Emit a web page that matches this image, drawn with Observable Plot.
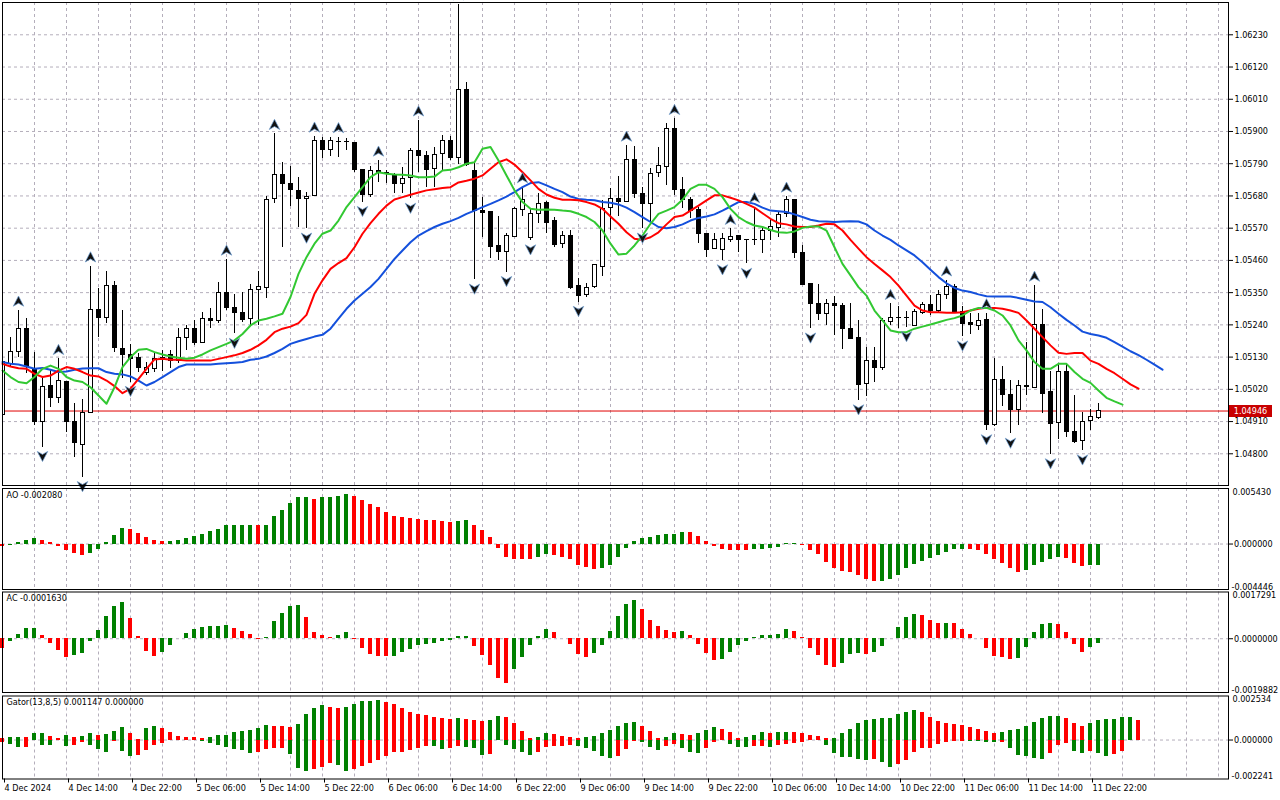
<!DOCTYPE html>
<html>
<head>
<meta charset="utf-8">
<script src="https://cdn.jsdelivr.net/npm/d3@7"></script>
<script src="https://cdn.jsdelivr.net/npm/@observablehq/plot@0.6"></script>
<style>
  body { margin: 0; background: #ffffff; }
  #chart { position: relative; width: 1280px; height: 800px; overflow: hidden; background: #ffffff; }
  #chart svg { position: absolute; left: 0; }
  #tag { position: absolute; left: 1229px; width: 43px; height: 12px; background: #c80000; color: #ffffff;
         font: 9px "DejaVu Sans Condensed", "Liberation Sans", sans-serif; line-height: 12px; text-align: center; }
</style>
</head>
<body>
<div id="chart"></div>
<script>
// ---------- data ----------
const tickLabels = ["4 Dec 2024","4 Dec 14:00","4 Dec 22:00","5 Dec 06:00","5 Dec 14:00","5 Dec 22:00",
  "6 Dec 06:00","6 Dec 14:00","6 Dec 22:00","9 Dec 06:00","9 Dec 14:00","9 Dec 22:00",
  "10 Dec 06:00","10 Dec 14:00","10 Dec 22:00","11 Dec 06:00","11 Dec 14:00","11 Dec 22:00"];
const priceTicks = [1.06230,1.06120,1.06010,1.05900,1.05790,1.05680,1.05570,1.05460,1.05350,1.05240,1.05130,1.05020,1.04910,1.04800];
const aoRange = [-0.004446, 0.005430];
const acRange = [-0.0019882, 0.0017291];
const gatorRange = [-0.002241, 0.002534];

const open = [
1.04931,1.05107,1.05147,1.05227,1.05088,1.04908,1.05030,1.04991,1.05045,1.04910,
1.04831,1.04940,1.05291,1.05263,1.05371,1.05158,1.05138,1.05126,1.05076,1.05090,
1.05122,1.05138,1.05118,1.05196,1.05227,1.05179,1.05261,1.05253,1.05349,1.05298,
1.05281,1.05261,1.05360,1.05366,1.05670,1.05753,1.05721,1.05696,1.05670,1.05679,
1.05869,1.05837,1.05863,1.05865,1.05861,1.05769,1.05684,1.05765,1.05759,1.05748,
1.05721,1.05742,1.05833,1.05818,1.05773,1.05824,1.05867,1.05810,1.06040,1.05764,
1.05630,1.05624,1.05508,1.05488,1.05539,1.05633,1.05536,1.05619,1.05655,1.05593,
1.05517,1.05545,1.05371,1.05343,1.05369,1.05437,1.05640,1.05670,1.05659,1.05801,
1.05685,1.05653,1.05758,1.05778,1.05909,1.05699,1.05665,1.05633,1.05551,1.05500,
1.05496,1.05531,1.05542,1.05531,1.05529,1.05530,1.05560,1.05571,1.05617,1.05665,
1.05486,1.05378,1.05310,1.05278,1.05312,1.05306,1.05227,1.05196,1.05039,1.05115,
1.05092,1.05249,1.05264,1.05262,1.05236,1.05280,1.05308,1.05287,1.05343,1.05369,
1.05283,1.05246,1.05236,1.05257,1.04899,1.05052,1.05001,1.04948,1.05033,1.05025,
1.05241,1.05010,1.04905,1.05079,1.04876,1.04843,1.04911,1.04923];
const high = [
1.05118,1.05198,1.05289,1.05261,1.05147,1.05056,1.05084,1.05124,1.05045,1.04971,
1.04985,1.05440,1.05363,1.05423,1.05388,1.05289,1.05173,1.05141,1.05113,1.05141,
1.05153,1.05153,1.05227,1.05238,1.05255,1.05283,1.05295,1.05384,1.05463,1.05344,
1.05349,1.05377,1.05423,1.05678,1.05892,1.05793,1.05781,1.05742,1.05693,1.05883,
1.05878,1.05881,1.05881,1.05875,1.05861,1.05769,1.05781,1.05801,1.05767,1.05756,
1.05778,1.05841,1.05938,1.05832,1.05847,1.05886,1.05883,1.06334,1.06068,1.05790,
1.05676,1.05624,1.05610,1.05551,1.05642,1.05710,1.05633,1.05690,1.05661,1.05608,
1.05559,1.05562,1.05397,1.05380,1.05446,1.05665,1.05704,1.05746,1.05852,1.05849,
1.05708,1.05773,1.05847,1.05926,1.05943,1.05744,1.05676,1.05642,1.05551,1.05551,
1.05551,1.05568,1.05542,1.05531,1.05642,1.05574,1.05602,1.05625,1.05678,1.05667,
1.05511,1.05378,1.05378,1.05326,1.05337,1.05314,1.05312,1.05255,1.05164,1.05164,
1.05261,1.05312,1.05303,1.05286,1.05291,1.05315,1.05340,1.05357,1.05392,1.05377,
1.05303,1.05280,1.05280,1.05280,1.05124,1.05098,1.05050,1.05050,1.05181,1.05374,
1.05291,1.05082,1.05107,1.05109,1.04999,1.04942,1.04950,1.04973];
const low = [
1.04925,1.05096,1.05130,1.05073,1.04897,1.04823,1.04957,1.04971,1.04874,1.04789,
1.04720,1.04940,1.05198,1.05246,1.05147,1.05056,1.05045,1.05079,1.05067,1.05079,
1.05082,1.05090,1.05107,1.05153,1.05170,1.05175,1.05227,1.05244,1.05289,1.05209,
1.05249,1.05238,1.05238,1.05329,1.05653,1.05505,1.05644,1.05571,1.05568,1.05679,
1.05807,1.05815,1.05810,1.05835,1.05761,1.05659,1.05676,1.05727,1.05721,1.05687,
1.05687,1.05670,1.05761,1.05708,1.05710,1.05767,1.05801,1.05787,1.05780,1.05394,
1.05537,1.05468,1.05460,1.05420,1.05537,1.05610,1.05528,1.05587,1.05551,1.05505,
1.05500,1.05360,1.05318,1.05335,1.05363,1.05405,1.05562,1.05610,1.05659,1.05670,
1.05568,1.05591,1.05744,1.05716,1.05682,1.05636,1.05602,1.05517,1.05469,1.05500,
1.05460,1.05522,1.05488,1.05448,1.05511,1.05485,1.05528,1.05537,1.05608,1.05465,
1.05377,1.05227,1.05255,1.05238,1.05204,1.05155,1.05192,1.04982,1.04996,1.05045,
1.05084,1.05238,1.05227,1.05232,1.05236,1.05275,1.05272,1.05283,1.05326,1.05278,
1.05200,1.05206,1.05221,1.04880,1.04893,1.04961,1.04868,1.04897,1.04999,1.05022,
1.04936,1.04798,1.04848,1.04857,1.04834,1.04811,1.04880,1.04916];
const close = [
1.05113,1.05149,1.05227,1.05096,1.04908,1.05027,1.04991,1.05047,1.04908,1.04836,
1.04940,1.05291,1.05263,1.05371,1.05161,1.05138,1.05124,1.05092,1.05092,1.05124,
1.05126,1.05118,1.05195,1.05227,1.05179,1.05261,1.05253,1.05349,1.05298,1.05281,
1.05257,1.05360,1.05369,1.05667,1.05750,1.05721,1.05701,1.05670,1.05678,1.05869,
1.05837,1.05866,1.05865,1.05863,1.05769,1.05682,1.05765,1.05759,1.05757,1.05721,
1.05739,1.05833,1.05816,1.05769,1.05820,1.05867,1.05809,1.06040,1.05784,1.05630,
1.05621,1.05505,1.05488,1.05542,1.05634,1.05665,1.05617,1.05653,1.05587,1.05514,
1.05545,1.05366,1.05340,1.05366,1.05443,1.05636,1.05670,1.05659,1.05803,1.05685,
1.05653,1.05756,1.05781,1.05909,1.05699,1.05665,1.05630,1.05551,1.05496,1.05531,
1.05534,1.05539,1.05528,1.05529,1.05531,1.05562,1.05574,1.05616,1.05665,1.05486,
1.05377,1.05310,1.05278,1.05310,1.05306,1.05227,1.05192,1.05035,1.05115,1.05092,
1.05252,1.05263,1.05262,1.05264,1.05283,1.05308,1.05287,1.05343,1.05369,1.05283,
1.05244,1.05238,1.05253,1.04897,1.05052,1.04999,1.04948,1.05033,1.05027,1.05241,
1.05005,1.04900,1.05079,1.04874,1.04840,1.04910,1.04925,1.04946];

// Alligator (already shifted forward as drawn)
const jaw = [
1.05113,1.05107,1.05105,1.05098,1.05090,1.05093,1.05087,1.05079,1.05081,1.05087,
1.05091,1.05092,1.05092,1.05079,1.05073,1.05071,1.05064,1.05050,1.05033,1.05045,
1.05062,1.05079,1.05096,1.05105,1.05105,1.05105,1.05105,1.05107,1.05109,1.05111,
1.05113,1.05121,1.05124,1.05132,1.05144,1.05158,1.05175,1.05184,1.05192,1.05200,
1.05206,1.05227,1.05261,1.05295,1.05323,1.05346,1.05369,1.05397,1.05431,1.05465,
1.05494,1.05522,1.05545,1.05560,1.05574,1.05585,1.05594,1.05605,1.05619,1.05630,
1.05642,1.05653,1.05665,1.05678,1.05693,1.05710,1.05724,1.05727,1.05716,1.05704,
1.05693,1.05678,1.05670,1.05667,1.05665,1.05659,1.05657,1.05651,1.05640,1.05625,
1.05608,1.05591,1.05574,1.05570,1.05574,1.05583,1.05596,1.05605,1.05610,1.05617,
1.05630,1.05644,1.05659,1.05659,1.05653,1.05640,1.05630,1.05628,1.05625,1.05617,
1.05608,1.05599,1.05594,1.05593,1.05591,1.05593,1.05594,1.05593,1.05583,1.05562,
1.05545,1.05530,1.05511,1.05494,1.05477,1.05454,1.05428,1.05403,1.05382,1.05366,
1.05357,1.05352,1.05344,1.05338,1.05337,1.05337,1.05337,1.05332,1.05326,1.05320,
1.05318,1.05300,1.05278,1.05257,1.05238,1.05217,1.05209,1.05204,1.05196,1.05181,
1.05166,1.05150,1.05137,1.05121,1.05104,1.05087];
const teeth = [
1.05107,1.05098,1.05092,1.05090,1.05073,1.05062,1.05067,1.05084,1.05096,1.05090,
1.05079,1.05067,1.05064,1.05050,1.05031,1.05007,1.05022,1.05056,1.05090,1.05122,
1.05124,1.05121,1.05121,1.05118,1.05118,1.05118,1.05118,1.05124,1.05130,1.05136,
1.05144,1.05155,1.05170,1.05189,1.05215,1.05227,1.05234,1.05246,1.05274,1.05346,
1.05392,1.05431,1.05451,1.05468,1.05505,1.05551,1.05587,1.05619,1.05647,1.05668,
1.05676,1.05684,1.05692,1.05699,1.05703,1.05707,1.05710,1.05726,1.05732,1.05739,
1.05750,1.05773,1.05795,1.05805,1.05787,1.05761,1.05733,1.05704,1.05685,1.05674,
1.05667,1.05667,1.05665,1.05659,1.05651,1.05636,1.05610,1.05585,1.05556,1.05534,
1.05530,1.05539,1.05556,1.05583,1.05608,1.05613,1.05630,1.05647,1.05665,1.05682,
1.05682,1.05674,1.05665,1.05653,1.05640,1.05621,1.05602,1.05587,1.05583,1.05576,
1.05574,1.05574,1.05579,1.05585,1.05583,1.05562,1.05530,1.05500,1.05471,1.05448,
1.05426,1.05403,1.05374,1.05340,1.05306,1.05289,1.05283,1.05283,1.05281,1.05281,
1.05283,1.05289,1.05295,1.05298,1.05298,1.05295,1.05289,1.05281,1.05255,1.05227,
1.05198,1.05170,1.05145,1.05141,1.05144,1.05144,1.05118,1.05107,1.05090,1.05075,
1.05056,1.05037,1.05022];
const lips = [
1.05084,1.05062,1.05045,1.05041,1.05062,1.05090,1.05101,1.05090,1.05062,1.05050,
1.05045,1.05027,1.04999,1.04971,1.05027,1.05096,1.05130,1.05155,1.05158,1.05147,
1.05139,1.05132,1.05128,1.05124,1.05128,1.05139,1.05153,1.05164,1.05175,1.05187,
1.05209,1.05238,1.05255,1.05261,1.05269,1.05278,1.05335,1.05414,1.05471,1.05517,
1.05551,1.05562,1.05596,1.05642,1.05676,1.05710,1.05744,1.05761,1.05756,1.05753,
1.05752,1.05750,1.05744,1.05744,1.05746,1.05767,1.05769,1.05778,1.05790,1.05795,
1.05841,1.05847,1.05801,1.05750,1.05699,1.05659,1.05636,1.05633,1.05634,1.05633,
1.05630,1.05628,1.05619,1.05608,1.05591,1.05562,1.05517,1.05480,1.05483,1.05511,
1.05545,1.05585,1.05619,1.05630,1.05642,1.05667,1.05704,1.05718,1.05718,1.05704,
1.05676,1.05636,1.05608,1.05591,1.05579,1.05574,1.05564,1.05556,1.05554,1.05559,
1.05571,1.05576,1.05576,1.05562,1.05505,1.05448,1.05409,1.05369,1.05340,1.05289,
1.05255,1.05221,1.05215,1.05215,1.05227,1.05234,1.05241,1.05249,1.05257,1.05263,
1.05272,1.05289,1.05298,1.05298,1.05289,1.05272,1.05238,1.05187,1.05153,1.05113,
1.05090,1.05090,1.05107,1.05107,1.05079,1.05056,1.05042,1.05016,1.04991,1.04979,
1.04968];

// Fractal bar indices
const fractalUp = [2,7,11,28,34,39,42,47,52,57,65,78,84,91,94,98,111,118,123,129];
const fractalDown = [5,10,16,29,38,45,51,59,63,66,72,80,90,93,101,107,113,120,123,126,131,135];

// Awesome Oscillator
const ao = [
-0.000233,-0.000133,0.000133,0.000333,0.000533,0.000333,0.000133,-0.000233,-0.000633,-0.000932,
-0.001132,-0.000966,-0.000533,0.000133,0.000833,0.001532,0.001432,0.001066,0.000666,0.000333,
0.000200,0.000233,0.000333,0.000566,0.000766,0.000932,0.001232,0.001432,0.001765,0.001832,
0.001835,0.001838,0.001800,0.001830,0.002731,0.003263,0.003929,0.004529,0.004595,0.004362,
0.004529,0.004535,0.004629,0.004829,0.004629,0.004262,0.003863,0.003530,0.003130,0.002731,
0.002631,0.002464,0.002431,0.002264,0.002260,0.002198,0.002131,0.002231,0.002331,0.001832,
0.001332,0.000633,-0.000466,-0.001332,-0.001465,-0.001532,-0.001535,-0.001332,-0.001066,-0.001166,
-0.001332,-0.001532,-0.002065,-0.002331,-0.002531,-0.002431,-0.002065,-0.001332,-0.000466,0.000233,
0.000533,0.000633,0.000833,0.000932,0.000935,0.001132,0.001100,0.000733,0.000233,-0.000233,
-0.000533,-0.000633,-0.000636,-0.000640,-0.000566,-0.000560,-0.000466,-0.000366,0.000033,0.000050,
-0.000166,-0.000633,-0.001066,-0.001765,-0.002364,-0.002664,-0.002764,-0.003064,-0.003463,-0.003663,
-0.003630,-0.003463,-0.003030,-0.002431,-0.001965,-0.001665,-0.001432,-0.001166,-0.000866,-0.000566,
-0.000533,-0.000566,-0.000633,-0.001066,-0.001532,-0.001931,-0.002364,-0.002764,-0.002564,-0.002065,
-0.001765,-0.001532,-0.001365,-0.001370,-0.001865,-0.002165,-0.002131,-0.002080];

// Accelerator Oscillator
const ac = [
-0.0003433,-0.0000858,0.0001594,0.0003801,0.0003923,0.0001226,-0.0001594,-0.0004168,-0.0006866,-0.0006375,
-0.0005394,-0.0000858,0.0003188,0.0008214,0.0011892,0.0013486,0.0007479,0.0000858,-0.0004536,-0.0006498,
-0.0004904,-0.0002329,0.0000245,0.0001962,0.0003310,0.0004168,0.0004536,0.0004598,0.0004904,0.0003801,
0.0002697,0.0001594,-0.0000245,0.0000490,0.0006375,0.0009440,0.0011892,0.0012260,0.0007846,0.0002452,
0.0001226,0.0000490,0.0001226,0.0002452,-0.0000245,-0.0003433,-0.0005762,-0.0006498,-0.0006743,-0.0006498,
-0.0004904,-0.0003801,-0.0002452,-0.0001962,-0.0001594,-0.0000858,-0.0000797,0.0000858,0.0000920,-0.0002697,
-0.0006130,-0.0009808,-0.0014835,-0.0016428,-0.0011524,-0.0006866,-0.0002329,0.0000858,0.0003433,0.0002329,
0.0000123,-0.0001962,-0.0005762,-0.0006866,-0.0005640,-0.0002329,0.0002820,0.0008214,0.0012628,0.0014099,
0.0010789,0.0006743,0.0004659,0.0003065,0.0002452,0.0002513,0.0001226,-0.0001962,-0.0005640,-0.0008214,
-0.0007846,-0.0004904,-0.0002329,-0.0000858,0.0000490,0.0001226,0.0001287,0.0001594,0.0003433,0.0002697,
0.0000490,-0.0003433,-0.0006375,-0.0009808,-0.0010544,-0.0009072,-0.0005762,-0.0005272,-0.0005762,-0.0004904,
-0.0002697,0.0000245,0.0004168,0.0007724,0.0008950,0.0008582,0.0006743,0.0005640,0.0005701,0.0005517,
0.0003310,0.0001594,0.0000123,-0.0003433,-0.0006498,-0.0006866,-0.0007846,-0.0007479,-0.0003188,0.0002329,
0.0005272,0.0005640,0.0005272,0.0002329,-0.0001962,-0.0004904,-0.0003188,-0.0001630];

// Gator oscillator
const gatorUpper = [
0.000097,0.000135,0.000174,0.000155,0.000348,0.000358,0.000232,0.000116,0.000290,0.000135,
0.000232,0.000348,0.000290,0.000300,0.000483,0.000696,0.000387,0.000039,0.000657,0.000754,
0.000657,0.000406,0.000232,0.000174,0.000155,0.000116,0.000174,0.000251,0.000290,0.000406,
0.000483,0.000522,0.000657,0.000812,0.000773,0.000764,0.000696,0.000909,0.001450,0.001798,
0.001972,0.001875,0.001798,0.001875,0.002030,0.002223,0.002233,0.002262,0.002146,0.002030,
0.001798,0.001566,0.001450,0.001392,0.001276,0.001218,0.001160,0.001218,0.001160,0.001140,
0.001044,0.001102,0.001334,0.001314,0.000928,0.000464,0.000116,0.000135,0.000348,0.000329,
0.000232,0.000174,0.000116,0.000174,0.000232,0.000348,0.000522,0.000754,0.000928,0.000986,
0.000754,0.000464,0.000116,0.000174,0.000348,0.000338,0.000290,0.000348,0.000522,0.000696,
0.000580,0.000406,0.000116,0.000174,0.000290,0.000406,0.000348,0.000406,0.000416,0.000406,
0.000387,0.000290,0.000232,0.000097,0.000116,0.000348,0.000619,0.000947,0.001102,0.001160,
0.001218,0.001227,0.001450,0.001566,0.001682,0.001566,0.001276,0.001044,0.000928,0.000870,
0.000812,0.000696,0.000580,0.000464,0.000387,0.000406,0.000522,0.000580,0.000754,0.000986,
0.001218,0.001334,0.001343,0.001218,0.000928,0.000754,0.000928,0.001102,0.001160,0.001169,
0.001276,0.001285,0.001147];
const gatorLower = [
-0.000135,-0.000232,-0.000445,-0.000406,-0.000019,-0.000290,-0.000309,-0.000039,-0.000348,-0.000338,
-0.000155,-0.000290,-0.000561,-0.000735,-0.000097,-0.000638,-0.000928,-0.000909,-0.000599,-0.000290,
-0.000174,-0.000039,-0.000019,-0.000010,-0.000006,-0.000097,-0.000213,-0.000329,-0.000406,-0.000522,
-0.000580,-0.000793,-0.000696,-0.000522,-0.000503,-0.000493,-0.000851,-0.001643,-0.001836,-0.001701,
-0.001604,-0.001372,-0.001488,-0.001798,-0.001682,-0.001546,-0.001372,-0.001198,-0.000967,-0.000735,
-0.000725,-0.000619,-0.000464,-0.000348,-0.000387,-0.000561,-0.000503,-0.000387,-0.000445,-0.000503,
-0.000909,-0.000851,-0.000039,-0.000329,-0.000561,-0.000735,-0.000909,-0.000735,-0.000445,-0.000387,
-0.000367,-0.000329,-0.000387,-0.000503,-0.000677,-0.000967,-0.001082,-0.000967,-0.000561,-0.000097,
-0.000155,-0.000445,-0.000619,-0.000387,-0.000271,-0.000503,-0.000735,-0.000793,-0.000503,-0.000155,
-0.000039,-0.000271,-0.000445,-0.000454,-0.000387,-0.000377,-0.000445,-0.000329,-0.000271,-0.000213,
-0.000116,-0.000039,-0.000019,-0.000329,-0.000793,-0.000986,-0.001024,-0.001102,-0.001160,-0.001102,
-0.001276,-0.001566,-0.001430,-0.001160,-0.000735,-0.000503,-0.000464,-0.000232,-0.000155,-0.000097,
-0.000058,-0.000077,-0.000097,-0.000116,-0.000155,-0.000145,-0.000483,-0.000909,-0.000967,-0.001082,
-0.001140,-0.000793,-0.000329,-0.000213,-0.000677,-0.000793,-0.000677,-0.000793,-0.000967,-0.000851,
-0.000677];

// ---------- build ----------
const FONT = '"DejaVu Sans Condensed", "Liberation Sans", "DejaVu Sans", sans-serif';
const GRID = "#b4aebb";
const GREEN = "#008000", RED = "#ff0000";
const bars = close.map((c, i) => ({k: i, open: open[i], high: high[i], low: low[i], close: c}));
const lastClose = close[close.length - 1];
const gridBars = d3.range(4, 154, 4);
const labelBars = tickLabels.map((_, i) => i * 8);
const series = (arr) => arr.map((v, k) => ({k, v}));
const hist = (arr, mag) => arr.map((v, k) => ({k, v, up: k > 0 && mag(v) > mag(arr[k - 1])}));

const base = (extra) => Object.assign({
  width: 1280, marginLeft: 2, marginRight: 52,
  style: {fontFamily: FONT, fontSize: "9px", color: "black", background: "transparent", overflow: "visible"}
}, extra);
const xNoAxis = {domain: [0, 153.25], axis: null};
const vgrid = () => Plot.ruleX(gridBars, {stroke: GRID, strokeDasharray: "3,3"});
const zeroLine = () => Plot.ruleY([0], {stroke: GRID, strokeDasharray: "3,3"});
const title = (t) => Plot.text([t], {text: d => d, frameAnchor: "top-left", dx: 4, dy: 3, textAnchor: "start", lineAnchor: "top"});
const rangeLabels = (range, digits) => [
  Plot.text([range[1].toFixed(digits)], {text: d => d, frameAnchor: "top-right", dx: 4, dy: 0, textAnchor: "start", lineAnchor: "top"}),
  Plot.text([range[0].toFixed(digits)], {text: d => d, frameAnchor: "bottom-right", dx: 3, dy: 0, textAnchor: "start", lineAnchor: "bottom"})
];
const histBars = (data) => Plot.rect(data, {
  x1: d => d.k - 0.3, x2: d => d.k + 0.3, y1: 0, y2: "v",
  fill: d => d.up ? GREEN : RED, shapeRendering: "crispEdges"
});
const sideAxis = (digits) => Plot.axisY([0], {anchor: "right", tickSize: 4, tickPadding: 1.5, tickFormat: d => d.toFixed(digits), label: null});

const upSym = {draw(ctx, size) { const r = Math.sqrt(size / Math.PI);
  ctx.moveTo(0, -r); ctx.lineTo(r * 0.95, r * 0.85); ctx.lineTo(0, r * 0.3); ctx.lineTo(-r * 0.95, r * 0.85); ctx.closePath(); }};
const downSym = {draw(ctx, size) { const r = Math.sqrt(size / Math.PI);
  ctx.moveTo(0, r); ctx.lineTo(r * 0.95, -r * 0.85); ctx.lineTo(0, -r * 0.3); ctx.lineTo(-r * 0.95, -r * 0.85); ctx.closePath(); }};

const main = Plot.plot(base({
  height: 487, marginTop: 2, marginBottom: 2,
  x: xNoAxis,
  y: {domain: [1.046918, 1.063402]},
  marks: [
    vgrid(),
    Plot.ruleY(priceTicks, {stroke: GRID, strokeDasharray: "3,3"}),
    Plot.ruleY([lastClose], {stroke: "#e00000"}),
    Plot.ruleX(bars, {x: "k", y1: "low", y2: "high", stroke: "black", clip: true, shapeRendering: "crispEdges"}),
    Plot.rect(bars, {x1: d => d.k - 0.25, x2: d => d.k + 0.25, y1: "open", y2: "close",
      fill: d => d.close >= d.open ? "white" : "black", stroke: "black", clip: true, shapeRendering: "crispEdges"}),
    Plot.line(series(jaw), {x: "k", y: "v", stroke: "#1450dc", strokeWidth: 2}),
    Plot.line(series(teeth), {x: "k", y: "v", stroke: "#ff0000", strokeWidth: 2}),
    Plot.line(series(lips), {x: "k", y: "v", stroke: "#32c832", strokeWidth: 2}),
    Plot.dot(fractalUp.map(k => bars[k]), {x: "k", y: "high", dy: -9, r: 5.5, symbol: upSym, fill: "#111", stroke: "#6f9fd4", strokeWidth: 0.7}),
    Plot.dot(fractalDown.map(k => bars[k]), {x: "k", y: "low", dy: 9, r: 5.5, symbol: downSym, fill: "#111", stroke: "#6f9fd4", strokeWidth: 0.7}),
    Plot.frame({stroke: "black"}),
    Plot.axisY(priceTicks, {anchor: "right", tickSize: 4, tickPadding: 2, tickFormat: d => d.toFixed(5), label: null})
  ]
}));

const aoPlot = Plot.plot(base({
  height: 105, marginTop: 2, marginBottom: 2,
  x: xNoAxis, y: {domain: aoRange},
  marks: [
    vgrid(), zeroLine(),
    histBars(hist(ao, v => v)),
    Plot.frame({stroke: "black"}),
    title(`AO ${ao[ao.length - 1].toFixed(6)}`),
    sideAxis(6),
    ...rangeLabels(aoRange, 6)
  ]
}));

const acPlot = Plot.plot(base({
  height: 104, marginTop: 1.5, marginBottom: 2,
  x: xNoAxis, y: {domain: acRange},
  marks: [
    vgrid(), zeroLine(),
    histBars(hist(ac, v => v)),
    Plot.frame({stroke: "black"}),
    title(`AC ${ac[ac.length - 1].toFixed(7)}`),
    sideAxis(7),
    ...rangeLabels(acRange, 7)
  ]
}));

const gLast = gatorUpper[gatorUpper.length - 1];
const gLower = gatorLower.length >= gatorUpper.length ? Math.abs(gatorLower[gatorUpper.length - 1]) : 0;
const gatorPlot = Plot.plot(base({
  height: 107, marginTop: 2.5, marginBottom: 21.5,
  x: {domain: [0, 153.25]}, y: {domain: gatorRange},
  marks: [
    vgrid(), zeroLine(),
    histBars(hist(gatorUpper, v => Math.abs(v))),
    histBars(hist(gatorLower, v => Math.abs(v))),
    Plot.frame({stroke: "black"}),
    title(`Gator(13,8,5) ${gLast.toFixed(6)} ${gLower.toFixed(6)}`),
    sideAxis(6),
    ...rangeLabels(gatorRange, 6),
    Plot.axisX(labelBars, {anchor: "bottom", tickSize: 4, tickPadding: 2, tickFormat: k => tickLabels[k / 8],
      textAnchor: "start", dx: 2, label: null})
  ]
}));

const chart = document.getElementById("chart");
[[main, 0], [aoPlot, 486], [acPlot, 590], [gatorPlot, 693]].forEach(([svg, top]) => {
  svg.style.top = top + "px";
  chart.appendChild(svg);
});
const tag = document.createElement("div");
tag.id = "tag";
tag.textContent = lastClose.toFixed(5);
tag.style.top = (main.scale("y").apply(lastClose) - 6) + "px";
chart.appendChild(tag);
</script>
</body>
</html>
